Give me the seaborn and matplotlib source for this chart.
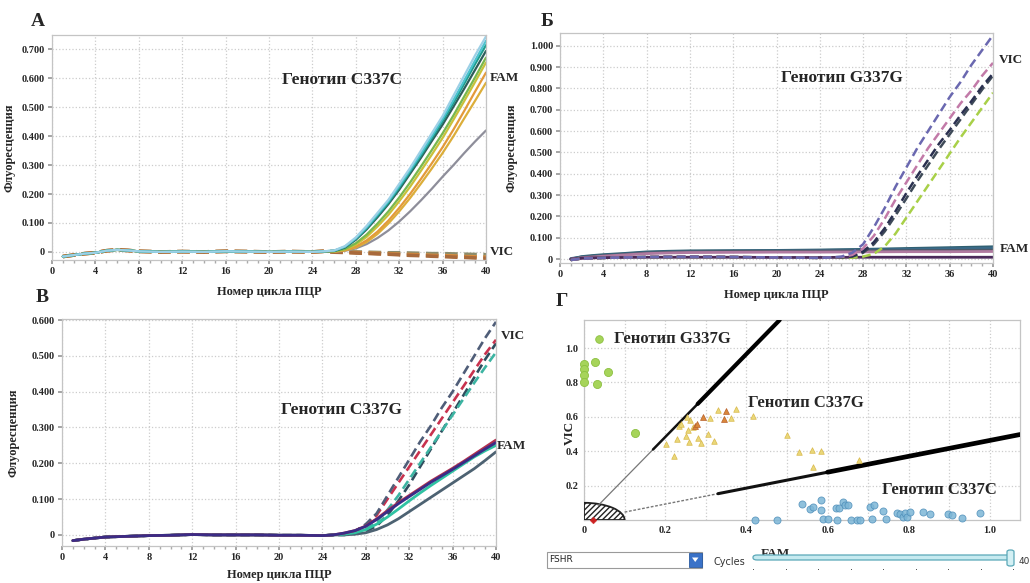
import numpy as np
import matplotlib
matplotlib.use("Agg")
import matplotlib.pyplot as plt
from matplotlib.patches import Wedge, Rectangle, FancyBboxPatch, Polygon
from matplotlib.ticker import FuncFormatter
import seaborn as sns

# ---------------- data ----------------
amp_cycles = [26, 27, 28, 29, 30, 31, 32, 33, 34, 35, 36, 37, 38, 39, 40]

# panel A (C337C): shared baseline, then FAM (solid) and VIC (dashed)
a_base_cycles = [1, 2, 3, 4, 5, 6, 7, 8, 10, 12, 14, 16, 18, 20, 22, 24, 25]
a_base = [-0.016, -0.011, -0.006, -0.003, 0.004, 0.007, 0.005, 0.002, 0.0, 0.001,
          0.0, 0.002, 0.001, 0.0, 0.001, 0.0, 0.002]
a_fam_1 = [0.005, 0.02, 0.05, 0.09, 0.135, 0.18, 0.235, 0.29, 0.35, 0.41, 0.47, 0.54, 0.61, 0.68, 0.745]
a_fam_2 = [0.004, 0.018, 0.047, 0.085, 0.13, 0.175, 0.228, 0.283, 0.34, 0.40, 0.46, 0.525, 0.593, 0.662, 0.73]
a_fam_3 = [0.004, 0.017, 0.045, 0.082, 0.125, 0.17, 0.222, 0.277, 0.333, 0.392, 0.452, 0.515, 0.582, 0.65, 0.715]
a_fam_4 = [0.003, 0.015, 0.042, 0.078, 0.12, 0.165, 0.215, 0.27, 0.325, 0.383, 0.44, 0.502, 0.565, 0.63, 0.695]
a_fam_5 = [0.002, 0.01, 0.03, 0.06, 0.098, 0.14, 0.188, 0.24, 0.295, 0.352, 0.41, 0.472, 0.538, 0.604, 0.672]
a_fam_6 = [0.002, 0.008, 0.025, 0.052, 0.088, 0.128, 0.175, 0.225, 0.28, 0.336, 0.394, 0.457, 0.522, 0.588, 0.655]
a_fam_7 = [0.001, 0.006, 0.018, 0.04, 0.07, 0.108, 0.152, 0.2, 0.252, 0.306, 0.362, 0.423, 0.488, 0.555, 0.62]
a_fam_8 = [0.001, 0.005, 0.015, 0.034, 0.062, 0.098, 0.14, 0.186, 0.236, 0.288, 0.342, 0.4, 0.462, 0.523, 0.585]
a_fam_9 = [0.0, 0.004, 0.012, 0.027, 0.048, 0.074, 0.105, 0.14, 0.178, 0.218, 0.26, 0.3, 0.342, 0.382, 0.42]
a_vic_1 = [0.002, 0.001, 0.0, -0.001, -0.002, -0.003, -0.003, -0.004, -0.005, -0.006, -0.006, -0.007, -0.008, -0.009, -0.010]
a_vic_2 = [0.0, -0.001, -0.002, -0.004, -0.005, -0.006, -0.008, -0.009, -0.010, -0.012, -0.013, -0.014, -0.016, -0.017, -0.018]
a_vic_3 = [-0.001, -0.002, -0.004, -0.005, -0.007, -0.008, -0.010, -0.012, -0.013, -0.015, -0.016, -0.018, -0.019, -0.021, -0.022]

# panel B (G337G)
b_vic_base_cycles = [1, 2, 4, 6, 8, 12, 16, 20, 24, 25]
b_vic_base = [-0.004, 0.003, 0.006, 0.008, 0.01, 0.011, 0.01, 0.008, 0.006, 0.008]
b_vic_1 = [0.012, 0.03, 0.07, 0.15, 0.24, 0.34, 0.43, 0.52, 0.60, 0.68, 0.76, 0.83, 0.91, 0.98, 1.05]
b_vic_2 = [0.01, 0.02, 0.05, 0.11, 0.19, 0.28, 0.36, 0.44, 0.52, 0.59, 0.66, 0.73, 0.79, 0.86, 0.92]
b_vic_3 = [0.009, 0.014, 0.035, 0.08, 0.145, 0.225, 0.31, 0.39, 0.465, 0.54, 0.605, 0.675, 0.74, 0.81, 0.87]
b_vic_4 = [0.008, 0.012, 0.03, 0.07, 0.13, 0.205, 0.285, 0.365, 0.44, 0.515, 0.585, 0.655, 0.725, 0.795, 0.86]
b_vic_5 = [0.006, 0.007, 0.012, 0.025, 0.06, 0.12, 0.195, 0.27, 0.345, 0.42, 0.495, 0.57, 0.64, 0.71, 0.78]
b_fam_cycles = [1, 2, 3, 4, 6, 8, 10, 12, 16, 20, 24, 28, 32, 36, 40]
b_fam_1 = [0.0, 0.012, 0.017, 0.021, 0.027, 0.034, 0.037, 0.039, 0.04, 0.041, 0.043, 0.046, 0.05, 0.054, 0.058]
b_fam_2 = [0.003, 0.01, 0.014, 0.018, 0.024, 0.031, 0.034, 0.036, 0.038, 0.039, 0.041, 0.043, 0.046, 0.049, 0.052]
b_fam_3 = [0.0, 0.008, 0.012, 0.016, 0.022, 0.029, 0.032, 0.034, 0.036, 0.037, 0.038, 0.039, 0.040, 0.041, 0.042]
b_fam_4 = [0.0, 0.006, 0.01, 0.014, 0.02, 0.026, 0.029, 0.031, 0.032, 0.033, 0.033, 0.034, 0.035, 0.035, 0.036]
b_fam_5 = [0.0, 0.004, 0.006, 0.007, 0.008, 0.009, 0.009, 0.009, 0.009, 0.008, 0.008, 0.009, 0.009, 0.009, 0.009]

# panel V (C337G)
c_base_cycles = [1, 2, 3, 4, 6, 8, 10, 12, 14, 16, 18, 20, 22, 24, 25]
c_base = [-0.016, -0.012, -0.009, -0.006, -0.004, -0.002, -0.001, 0.001, 0.0, 0.0,
          0.0, -0.001, -0.001, -0.002, 0.0]
c_vic_1 = [0.002, 0.01, 0.03, 0.06, 0.11, 0.16, 0.21, 0.26, 0.305, 0.355, 0.40, 0.45, 0.50, 0.55, 0.595]
c_vic_2 = [0.002, 0.01, 0.028, 0.055, 0.1, 0.145, 0.19, 0.235, 0.28, 0.325, 0.37, 0.415, 0.46, 0.505, 0.545]
c_vic_3 = [0.0, 0.003, 0.01, 0.025, 0.055, 0.095, 0.14, 0.19, 0.24, 0.29, 0.34, 0.39, 0.44, 0.49, 0.535]
c_vic_4 = [0.0, 0.005, 0.015, 0.035, 0.07, 0.11, 0.155, 0.2, 0.245, 0.29, 0.335, 0.38, 0.425, 0.468, 0.51]
c_fam_1 = [0.005, 0.012, 0.025, 0.045, 0.068, 0.09, 0.11, 0.13, 0.15, 0.168, 0.186, 0.205, 0.225, 0.245, 0.265]
c_fam_2 = [0.005, 0.012, 0.024, 0.043, 0.065, 0.087, 0.107, 0.127, 0.147, 0.165, 0.183, 0.202, 0.221, 0.24, 0.258]
c_fam_3 = [0.002, 0.006, 0.015, 0.03, 0.05, 0.072, 0.095, 0.117, 0.138, 0.158, 0.178, 0.198, 0.218, 0.235, 0.25]
c_fam_4 = [0.0, 0.002, 0.006, 0.015, 0.028, 0.045, 0.065, 0.085, 0.105, 0.125, 0.145, 0.165, 0.185, 0.208, 0.232]

# panel G: allelic discrimination plot (FAM vs VIC)
gg_fam = [0.0, 0.0, 0.0, 0.0, 0.028, 0.033, 0.059, 0.126]
gg_vic = [0.91, 0.876, 0.843, 0.80, 0.92, 0.79, 0.862, 0.504]
cg_fam = [0.202, 0.222, 0.228, 0.235, 0.24, 0.254, 0.261, 0.251, 0.257, 0.259, 0.269, 0.282,
          0.287, 0.305, 0.31, 0.321, 0.331, 0.361, 0.374, 0.417, 0.499, 0.529, 0.562, 0.583,
          0.565, 0.677]
cg_vic = [0.44, 0.374, 0.473, 0.547, 0.558, 0.60, 0.581, 0.488, 0.523, 0.455, 0.539, 0.475,
          0.45, 0.498, 0.591, 0.461, 0.64, 0.591, 0.643, 0.607, 0.492, 0.393, 0.407, 0.403,
          0.306, 0.349]
cg_dark_fam = [0.273, 0.279, 0.292, 0.345, 0.35]
cg_dark_vic = [0.547, 0.556, 0.60, 0.585, 0.636]
cc_fam = [0.42, 0.476, 0.536, 0.557, 0.563, 0.583, 0.583, 0.588, 0.602, 0.621, 0.629, 0.637,
          0.643, 0.651, 0.622, 0.657, 0.672, 0.68, 0.704, 0.714, 0.709, 0.736, 0.744, 0.772,
          0.778, 0.786, 0.791, 0.796, 0.804, 0.834, 0.852, 0.897, 0.906, 0.932, 0.975]
cc_vic = [0.0, 0.0, 0.093, 0.062, 0.078, 0.116, 0.058, 0.004, 0.004, 0.068, 0.072, 0.107,
          0.085, 0.087, 0.0, 0.0, 0.0, 0.0, 0.078, 0.087, 0.004, 0.054, 0.004, 0.039,
          0.035, 0.016, 0.043, 0.019, 0.048, 0.047, 0.035, 0.035, 0.029, 0.012, 0.043]
ntc_fam = [0.022]
ntc_vic = [0.0]
# cluster boundaries
bound1_fam = [0.035, 0.17, 0.28, 0.482]
bound1_vic = [0.085, 0.41, 0.675, 1.163]
bound2_fam = [0.10, 0.33, 0.60, 1.074]
bound2_vic = [0.046, 0.153, 0.278, 0.497]
ntc_radius = 0.1
slider_marks = 9

# ---------------- style ----------------
sns.set_theme(style="white")
plt.rcParams['font.family'] = ['Liberation Serif', 'DejaVu Serif']
plt.rcParams['font.weight'] = 'bold'
plt.rcParams['axes.labelweight'] = 'bold'

W, H = 1030, 583
fig = plt.figure(figsize=(W / 100, H / 100), dpi=100)


def px_rect(l, t, r, b):
    return [l / W, 1 - b / H, (r - l) / W, (b - t) / H]


def fx(x):
    return x / W


def fy(y):
    return 1 - y / H


GRID = '#cccccc'
SPINE = '#c4c4c4'


def pcr_axes(ax, ylim, yticks, xlab_y, ylab_x):
    ax.set_xlim(0, 40)
    ax.set_ylim(*ylim)
    ax.set_xticks(range(0, 41, 4))
    ax.set_xticks(range(0, 41), minor=True)
    ax.set_yticks(yticks)
    ax.yaxis.set_major_formatter(FuncFormatter(lambda v, p: '0' if abs(v) < 1e-9 else f'{v:.3f}'))
    ax.grid(True, which='major', color=GRID, ls=':', lw=0.9)
    for s in ax.spines.values():
        s.set_color(SPINE)
        s.set_linewidth(0.9)
    ax.tick_params(axis='both', which='major', labelsize=7.5, length=3, color='#999999',
                   direction='out', pad=2, bottom=True, left=True)
    ax.tick_params(axis='x', which='minor', length=1.8, color='#aaaaaa', bottom=True)
    ax.set_xlabel('Номер цикла ПЦР', fontsize=9)
    ax.set_ylabel('Флуоресценция', fontsize=9)
    ax.xaxis.set_label_coords(0.5, xlab_y)
    ax.yaxis.set_label_coords(ylab_x, 0.5)


def curve(ax, cyc, vals, color, dashed=False, lw=1.6):
    ls = (0, (3.5, 1.8)) if dashed else '-'
    sns.lineplot(x=cyc, y=vals, ax=ax, color=color, lw=lw, linestyle=ls,
                 estimator=None, sort=False, legend=False)


# ---------------- panel A ----------------
axA = fig.add_axes(px_rect(52, 35, 486, 260))
a_vics = [a_vic_1, a_vic_2, a_vic_3]
a_vic_cols = ['#8c8c6c', '#d98c3c', '#a86a3c']
for v, c in zip(a_vics, a_vic_cols):
    curve(axA, a_base_cycles + amp_cycles, a_base + v, c, dashed=True, lw=2.6)
a_fams = [a_fam_9, a_fam_8, a_fam_7, a_fam_6, a_fam_5, a_fam_4, a_fam_3, a_fam_2, a_fam_1]
a_fam_cols = ['#8e8e9a', '#dcae3a', '#e39a3a', '#c9c13a', '#79b84e', '#2e5d5a', '#1e9c8c',
              '#4cc3cf', '#9dd0e6']
for v, c in zip(a_fams, a_fam_cols):
    curve(axA, a_base_cycles + amp_cycles, a_base + v, c, lw=1.6)
pcr_axes(axA, (-0.028, 0.75), [0, 0.1, 0.2, 0.3, 0.4, 0.5, 0.6, 0.7], -0.115, -0.085)
axA.text(26.7, 0.593, 'Генотип C337C', fontsize=12.5, ha='center', va='center')

# ---------------- panel B ----------------
axB = fig.add_axes(px_rect(560, 33, 993, 263))
b_fams = [b_fam_1, b_fam_2, b_fam_3, b_fam_4, b_fam_5]
b_fam_cols = ['#2f5f70', '#3a6a88', '#4d5866', '#b07aa0', '#4a2a5a']
for v, c in zip(b_fams, b_fam_cols):
    curve(axB, b_fam_cycles, v, c, lw=2.0)
b_vics = [b_vic_5, b_vic_4, b_vic_3, b_vic_2, b_vic_1]
b_vic_cols = ['#a8d048', '#3e4a58', '#2a3050', '#c27aa8', '#6a68b0']
for v, c in zip(b_vics, b_vic_cols):
    curve(axB, b_vic_base_cycles + amp_cycles, b_vic_base + v, c, dashed=True, lw=1.8)
pcr_axes(axB, (-0.018, 1.06), [0, 0.1, 0.2, 0.3, 0.4, 0.5, 0.6, 0.7, 0.8, 0.9, 1.0], -0.115, -0.097)
axB.text(26.0, 0.85, 'Генотип G337G', fontsize=12.5, ha='center', va='center')

# ---------------- panel V ----------------
axC = fig.add_axes(px_rect(62, 319, 496, 546))
c_vics = [c_vic_3, c_vic_4, c_vic_2, c_vic_1]
c_vic_cols = ['#2f4d5e', '#3cb4a2', '#c8324e', '#4f5d78']
for v, c in zip(c_vics, c_vic_cols):
    curve(axC, c_base_cycles + amp_cycles, c_base + v, c, dashed=True, lw=1.9)
c_fams = [c_fam_4, c_fam_3, c_fam_1, c_fam_2]
c_fam_cols = ['#4d6272', '#2fc2a2', '#b3304e', '#3b2c86']
for v, c in zip(c_fams, c_fam_cols):
    curve(axC, c_base_cycles + amp_cycles, c_base + v, c, lw=2.0)
pcr_axes(axC, (-0.031, 0.603), [0, 0.1, 0.2, 0.3, 0.4, 0.5, 0.6], -0.10, -0.097)
axC.text(25.8, 0.35, 'Генотип C337G', fontsize=12.5, ha='center', va='center')

# ---------------- panel G ----------------
axD = fig.add_axes(px_rect(584, 320, 1020, 520))
axD.set_xlim(0, 1.074)
axD.set_ylim(0, 1.163)
axD.add_patch(Wedge((0, 0), ntc_radius, 0, 90, facecolor='white', edgecolor='#222222',
                    hatch='//////', lw=1.3, zorder=3))
# boundary lines, thin near the origin and thick further out
widths1 = [0.9, 1.8, 3.0]
cols1 = ['#777777', '#111111', '#000000']
for i in range(3):
    sns.lineplot(x=bound1_fam[i:i + 2], y=bound1_vic[i:i + 2], ax=axD, color=cols1[i],
                 lw=widths1[i], estimator=None, sort=False, legend=False, zorder=4)
widths2 = [1.0, 2.2, 3.4]
styles2 = [(0, (2, 1.2)), '-', '-']
for i in range(3):
    sns.lineplot(x=bound2_fam[i:i + 2], y=bound2_vic[i:i + 2], ax=axD, color=cols1[i],
                 lw=widths2[i], linestyle=styles2[i], estimator=None, sort=False,
                 legend=False, zorder=4)
sns.scatterplot(x=gg_fam, y=gg_vic, ax=axD, s=34, color='#a6d45a', edgecolor='#8cc040',
                linewidth=0.6, zorder=5, clip_on=False)
sns.scatterplot(x=cg_fam, y=cg_vic, ax=axD, marker='^', s=16, color='#ead87a',
                edgecolor='#d9b84a', linewidth=0.5, zorder=5)
sns.scatterplot(x=cg_dark_fam, y=cg_dark_vic, ax=axD, marker='^', s=18, color='#d9873a',
                edgecolor='#b8602a', linewidth=0.5, zorder=5)
sns.scatterplot(x=cc_fam, y=cc_vic, ax=axD, s=26, color='#7db6d6', edgecolor='#4f8fba',
                linewidth=0.6, alpha=0.85, zorder=5, clip_on=False)
sns.scatterplot(x=ntc_fam, y=ntc_vic, ax=axD, marker='D', s=12, color='#cc2222',
                edgecolor='#cc2222', zorder=6, clip_on=False)
axD.set_xticks([0, 0.2, 0.4, 0.6, 0.8, 1.0])
axD.set_xticks([0.1, 0.3, 0.5, 0.7, 0.9], minor=True)
axD.set_yticks([0.2, 0.4, 0.6, 0.8, 1.0])
axD.xaxis.set_major_formatter(FuncFormatter(lambda v, p: '0' if abs(v) < 1e-9 else f'{v:.1f}'))
axD.yaxis.set_major_formatter(FuncFormatter(lambda v, p: f'{v:.1f}'))
axD.grid(True, which='both', axis='x', color=GRID, ls=':', lw=0.9)
axD.grid(True, which='major', axis='y', color=GRID, ls=':', lw=0.9)
for s in axD.spines.values():
    s.set_color(SPINE)
    s.set_linewidth(0.9)
axD.tick_params(axis='both', which='major', labelsize=7.5, length=0, pad=4)
axD.tick_params(axis='x', which='minor', length=0)
axD.set_xlabel('FAM', fontsize=9.5)
axD.set_ylabel('VIC', fontsize=9.5)
axD.xaxis.set_label_coords(0.438, -0.14)
axD.yaxis.set_label_coords(-0.018, 0.435)
sns.scatterplot(x=[0.037], y=[1.054], ax=axD, s=30, color='#a6d45a', edgecolor='#8cc040',
                linewidth=0.6, zorder=5)
axD.text(0.075, 1.054, 'Генотип G337G', fontsize=12, ha='left', va='center')
axD.text(0.405, 0.68, 'Генотип C337G', fontsize=12, ha='left', va='center')
axD.text(0.735, 0.174, 'Генотип C337C', fontsize=12, ha='left', va='center')

# ---------------- panel letters and dye labels ----------------
for txt, x, y in [('A', 38, 22), ('Б', 547, 22), ('В', 42, 297), ('Г', 562, 302)]:
    fig.text(fx(x), fy(y), txt, fontsize=14, ha='center', va='center')
for txt, x, y in [('FAM', 490, 78), ('VIC', 490, 252), ('VIC', 999, 60), ('FAM', 1000, 249),
                  ('VIC', 501, 336), ('FAM', 497, 446)]:
    fig.text(fx(x), fy(y), txt, fontsize=9.5, ha='left', va='center')

# ---------------- software widgets under panel G ----------------
fig.add_artist(Rectangle((fx(547), fy(568)), (702 - 547) / W, 16 / H, transform=fig.transFigure,
                         facecolor='white', edgecolor='#9a9a9a', lw=0.8))
fig.add_artist(Rectangle((fx(689), fy(567)), 12.5 / W, 14 / H, transform=fig.transFigure,
                         facecolor='#3a72c8', edgecolor='#2a5aa0', lw=0.6))
fig.add_artist(Polygon([(fx(692), fy(557.5)), (fx(698.5), fy(557.5)), (fx(695.2), fy(562))],
                       closed=True, transform=fig.transFigure, facecolor='white', edgecolor='none'))
fig.text(fx(549), fy(560), 'FSHR', fontsize=6.5, family='DejaVu Sans', weight='normal',
         ha='left', va='center', color='#222222')
fig.text(fx(713), fy(562), 'Cycles', fontsize=7, family='DejaVu Sans', weight='normal',
         ha='left', va='center', color='#333333')
fig.add_artist(FancyBboxPatch((fx(753), fy(560)), (1012 - 753) / W, 5 / H,
                              boxstyle='round,pad=0,rounding_size=0.004',
                              transform=fig.transFigure, facecolor='#c6eaf0',
                              edgecolor='#5aa8b8', lw=0.9))
fig.add_artist(FancyBboxPatch((fx(1007), fy(566)), 7 / W, 16 / H,
                              boxstyle='round,pad=0,rounding_size=0.003',
                              transform=fig.transFigure, facecolor='#d4f0f4',
                              edgecolor='#5aa8b8', lw=0.9))
for k in range(slider_marks):
    xk = 753 + k * (1013 - 753) / (slider_marks - 1)
    fig.add_artist(Rectangle((fx(xk), fy(570)), 1.2 / W, 1.5 / H, transform=fig.transFigure,
                             facecolor='#555555', edgecolor='none'))
fig.text(fx(1019), fy(562), '40', fontsize=6.5, family='DejaVu Sans', weight='normal',
         ha='left', va='center', color='#333333')

fig.savefig('out.png', dpi=100, facecolor='white')
